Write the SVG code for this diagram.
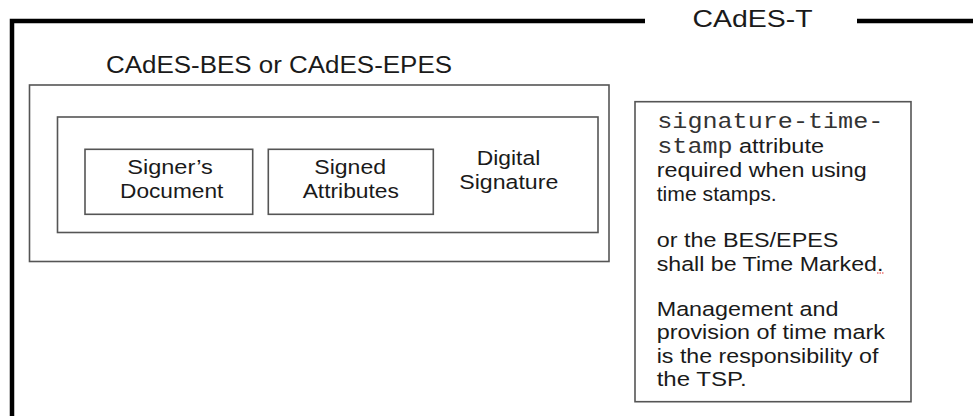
<svg xmlns="http://www.w3.org/2000/svg" width="973" height="416" viewBox="0 0 973 416">
<style>
  .frame { fill: none; stroke: #000; stroke-width: 4.5; stroke-linejoin: miter; stroke-linecap: butt; }
  .box { fill: #fff; stroke: #555; stroke-width: 1.6; }
  .t { font-family: "Liberation Sans", Arial, Helvetica, sans-serif; fill: #1a1a1a; }
  .mono { font-family: "Liberation Mono", "Courier New", monospace; fill: #333; }
  .c { text-anchor: middle; }
</style>
<rect width="973" height="416" fill="#fff"/>

<g id="cades-t">
  <path class="frame" d="M645,21 H12 V416"/>
  <path class="frame" d="M857,21 H973"/>
  <text class="t" x="692.5" y="27" font-size="24" textLength="120" lengthAdjust="spacingAndGlyphs">CAdES-T</text>
</g>

<g id="cades-bes">
  <text class="t" x="106" y="73" font-size="23" textLength="346" lengthAdjust="spacingAndGlyphs">CAdES-BES or CAdES-EPES</text>
  <rect class="box" x="29.5" y="85" width="579.5" height="176.5"/>
</g>

<g id="digital-signature">
  <rect class="box" x="57.5" y="117" width="540.5" height="115.5"/>
  <text class="t c" x="508.5" y="165" font-size="20.5" textLength="63.5" lengthAdjust="spacingAndGlyphs">Digital</text>
  <text class="t c" x="508.8" y="189.3" font-size="20.5" textLength="99" lengthAdjust="spacingAndGlyphs">Signature</text>
</g>

<g id="signers-document">
  <rect class="box" x="85" y="149.3" width="167.7" height="65"/>
  <text class="t c" x="170" y="174" font-size="20.5" textLength="85.5" lengthAdjust="spacingAndGlyphs">Signer’s</text>
  <text class="t c" x="171.7" y="198.3" font-size="20.5" textLength="103.3" lengthAdjust="spacingAndGlyphs">Document</text>
</g>

<g id="signed-attributes">
  <rect class="box" x="268.3" y="149.3" width="165" height="65"/>
  <text class="t c" x="350.2" y="174" font-size="20.5" textLength="71.7" lengthAdjust="spacingAndGlyphs">Signed</text>
  <text class="t c" x="350.8" y="198.3" font-size="20.5" textLength="96.3" lengthAdjust="spacingAndGlyphs">Attributes</text>
</g>

<g id="note">
  <rect class="box" x="635" y="101.7" width="276" height="300"/>
  <text class="mono" x="657.3" y="128" font-size="22" textLength="226" lengthAdjust="spacingAndGlyphs">signature-time-</text>
  <text class="mono" x="657.3" y="152.5" font-size="22" textLength="75.3" lengthAdjust="spacingAndGlyphs">stamp</text>
  <text class="t" x="739" y="152.5" font-size="20.5" textLength="85" lengthAdjust="spacingAndGlyphs">attribute</text>
  <text class="t" x="656.7" y="177" font-size="20.5" textLength="210" lengthAdjust="spacingAndGlyphs">required when using</text>
  <text class="t" x="656.7" y="201" font-size="20.5" textLength="120" lengthAdjust="spacingAndGlyphs">time stamps.</text>
  <text class="t" x="656.7" y="247" font-size="20.5" textLength="181.7" lengthAdjust="spacingAndGlyphs">or the BES/EPES</text>
  <text class="t" x="656.7" y="270.5" font-size="20.5" textLength="226.7" lengthAdjust="spacingAndGlyphs">shall be Time Marked.</text>
  <line x1="877" y1="273" x2="884" y2="273" stroke="#e03030" stroke-width="1.2" stroke-dasharray="1.5,1"/>
  <text class="t" x="656.7" y="316" font-size="20.5" textLength="181.7" lengthAdjust="spacingAndGlyphs">Management and</text>
  <text class="t" x="656.7" y="339" font-size="20.5" textLength="228.3" lengthAdjust="spacingAndGlyphs">provision of time mark</text>
  <text class="t" x="656.7" y="362.5" font-size="20.5" textLength="221.7" lengthAdjust="spacingAndGlyphs">is the responsibility of</text>
  <text class="t" x="656.7" y="385.5" font-size="20.5" textLength="90" lengthAdjust="spacingAndGlyphs">the TSP.</text>
</g>
</svg>
